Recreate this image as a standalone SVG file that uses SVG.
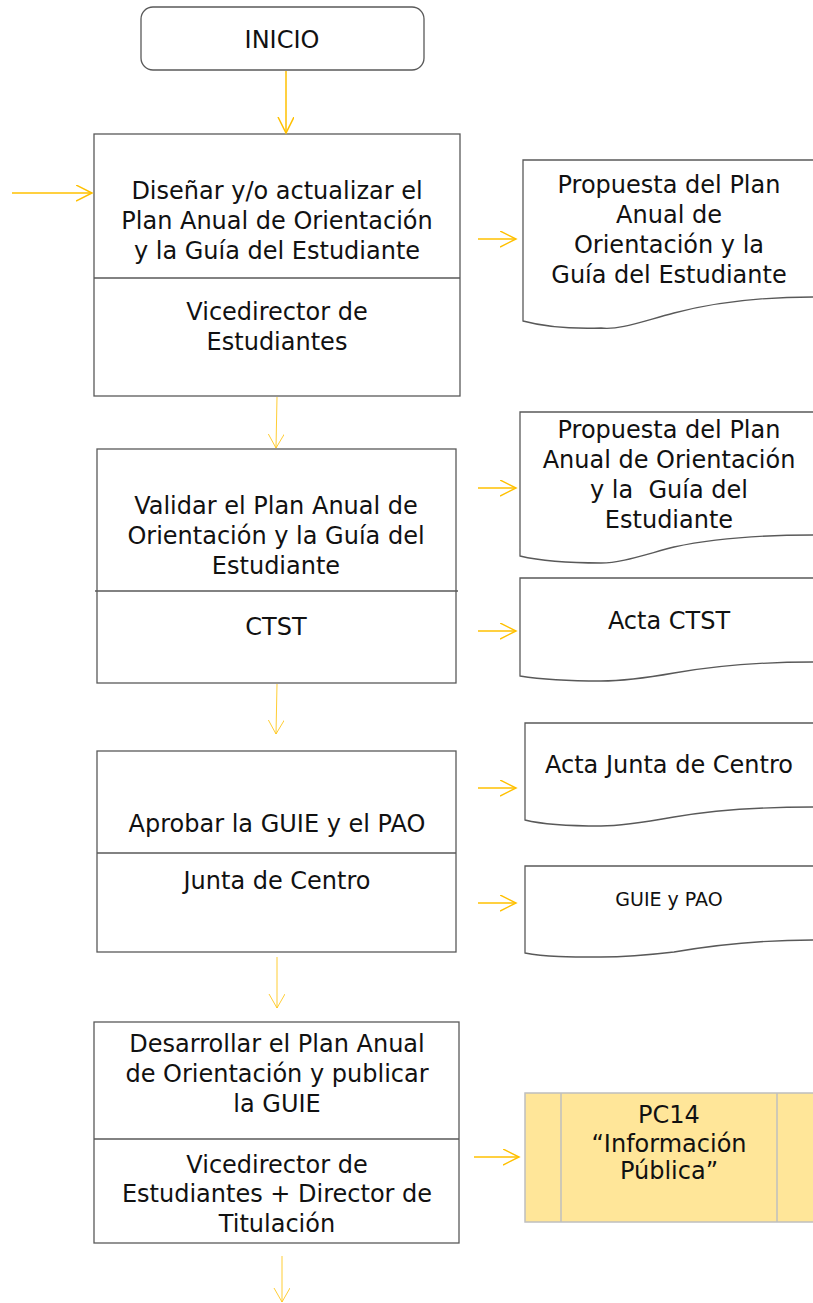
<svg xmlns="http://www.w3.org/2000/svg" width="813" height="1303" viewBox="0 0 813 1303">
<style>
.box{fill:#fff;stroke:#595959;stroke-width:1.3}
.doc{fill:#fff;stroke:#595959;stroke-width:1.3}
.t{font-family:"DejaVu Sans",sans-serif;font-size:24px;fill:#111;text-anchor:middle}
.s{font-size:19px}
.a{fill:none;stroke:#FFC000;stroke-width:1.5}
.thin{fill:none;stroke:#FFC000;stroke-width:0.8}
</style>
<defs>
<marker id="ah" markerUnits="userSpaceOnUse" markerWidth="20" markerHeight="20" refX="16" refY="8" orient="auto">
<path d="M0,0 L16,8 L0,16" fill="none" stroke="#FFC000" stroke-width="1.5"/>
</marker>
<marker id="ahThin" markerUnits="userSpaceOnUse" markerWidth="20" markerHeight="20" refX="14" refY="8" orient="auto">
<path d="M0,0 L14,8 L0,16" fill="none" stroke="#FFC000" stroke-width="0.8"/>
</marker>
</defs>

<g id="inicio">
<rect class="box" x="141" y="7" width="283" height="63" rx="12"/>
<text class="t" x="282" y="48">INICIO</text>
</g>

<g id="p1">
<rect class="box" x="94" y="134" width="366" height="262"/>
<line class="box" x1="94" y1="278" x2="460" y2="278"/>
<text class="t" x="277" y="199">Diseñar y/o actualizar el</text>
<text class="t" x="277" y="229">Plan Anual de Orientación</text>
<text class="t" x="277" y="259">y la Guía del Estudiante</text>
<text class="t" x="277" y="320">Vicedirector de</text>
<text class="t" x="277" y="350">Estudiantes</text>
</g>

<g id="d1">
<path class="doc" d="M820,297 L813,297 C770,297 720,301 674,313 C640,322 620,330 601,328 C570,329 545,327 523,321 V160 H820 Z"/>
<text class="t" x="669" y="193">Propuesta del Plan</text>
<text class="t" x="669" y="223">Anual de</text>
<text class="t" x="669" y="253">Orientación y la</text>
<text class="t" x="669" y="283">Guía del Estudiante</text>
</g>

<g id="p2">
<rect class="box" x="97" y="449" width="359" height="234"/>
<line class="box" x1="95" y1="591" x2="458" y2="591"/>
<text class="t" x="276" y="514">Validar el Plan Anual de</text>
<text class="t" x="276" y="544">Orientación y la Guía del</text>
<text class="t" x="276" y="574">Estudiante</text>
<text class="t" x="276" y="635">CTST</text>
</g>

<g id="d2">
<path class="doc" d="M820,535 L813,535 C770,535 720,537 674,547 C640,556 620,563 601,563 C570,563 545,562 520,556 V412 H820 Z"/>
<text class="t" x="669" y="438">Propuesta del Plan</text>
<text class="t" x="669" y="468">Anual de Orientación</text>
<text class="t" x="669" y="498" xml:space="preserve">y la  Guía del</text>
<text class="t" x="669" y="528">Estudiante</text>
</g>

<g id="d3">
<path class="doc" d="M820,662 L813,662 C770,662 720,665 674,673 C640,679 620,681 601,681 C570,681 545,680 520,676 V578 H820 Z"/>
<text class="t" x="669" y="629">Acta CTST</text>
</g>

<g id="p3">
<rect class="box" x="97" y="751" width="359" height="201"/>
<line class="box" x1="97" y1="853" x2="456" y2="853"/>
<text class="t" x="277" y="832">Aprobar la GUIE y el PAO</text>
<text class="t" x="277" y="889">Junta de Centro</text>
</g>

<g id="d4">
<path class="doc" d="M820,807 L813,807 C770,807 720,809 674,817 C640,823 620,826 601,826 C570,826 545,825 525,820 V723 H820 Z"/>
<text class="t" x="669" y="773">Acta Junta de Centro</text>
</g>

<g id="d5">
<path class="doc" d="M820,940 L813,940 C770,940 720,944 674,952 C640,956 620,957 601,957 C570,957 545,957 525,953 V866 H820 Z"/>
<text class="t s" x="669" y="906">GUIE y PAO</text>
</g>

<g id="p4">
<rect class="box" x="94" y="1022" width="365" height="221"/>
<line class="box" x1="94" y1="1139" x2="459" y2="1139"/>
<text class="t" x="277" y="1052">Desarrollar el Plan Anual</text>
<text class="t" x="277" y="1082">de Orientación y publicar</text>
<text class="t" x="277" y="1112">la GUIE</text>
<text class="t" x="277" y="1173">Vicedirector de</text>
<text class="t" x="277" y="1202">Estudiantes + Director de</text>
<text class="t" x="277" y="1232">Titulación</text>
</g>

<g id="pc14">
<rect x="525" y="1093" width="300" height="129" fill="#FFE699" stroke="#BFBFBF" stroke-width="1.5"/>
<line x1="561" y1="1093" x2="561" y2="1222" stroke="#BFBFBF" stroke-width="1.5"/>
<line x1="777" y1="1093" x2="777" y2="1222" stroke="#BFBFBF" stroke-width="1.5"/>
<text class="t" x="669" y="1123">PC14</text>
<text class="t" x="669" y="1152">“Información</text>
<text class="t" x="669" y="1179">Pública”</text>
</g>

<g id="connectors">
<line class="a" x1="286" y1="71" x2="286" y2="133" marker-end="url(#ah)"/>
<line class="a" x1="12" y1="193" x2="92" y2="193" marker-end="url(#ah)"/>
<line class="a" x1="478" y1="239" x2="516" y2="239" marker-end="url(#ah)"/>
<line class="thin" x1="277" y1="397" x2="276" y2="448" marker-end="url(#ahThin)"/>
<line class="a" x1="478" y1="488" x2="516" y2="488" marker-end="url(#ah)"/>
<line class="a" x1="478" y1="631" x2="516" y2="631" marker-end="url(#ah)"/>
<line class="thin" x1="277" y1="684" x2="276" y2="734" marker-end="url(#ahThin)"/>
<line class="a" x1="478" y1="788" x2="516" y2="788" marker-end="url(#ah)"/>
<line class="a" x1="478" y1="903" x2="516" y2="903" marker-end="url(#ah)"/>
<line class="thin" x1="277" y1="957" x2="277" y2="1008" marker-end="url(#ahThin)"/>
<line class="a" x1="474" y1="1157" x2="519" y2="1157" marker-end="url(#ah)"/>
<line class="thin" x1="282" y1="1256" x2="282" y2="1302" marker-end="url(#ahThin)"/>
</g>
</svg>
